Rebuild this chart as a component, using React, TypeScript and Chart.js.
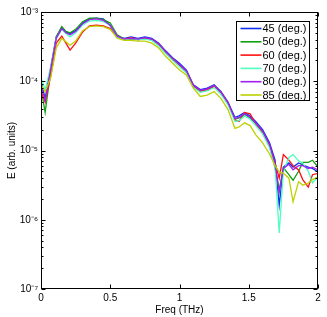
import React, { useEffect, useRef } from "react";
import { Chart, registerables } from "chart.js";

Chart.register(...registerables);

// Frequency grid (THz)
const freq = [
  0, 0.03, 0.07, 0.11, 0.15, 0.18, 0.21, 0.25, 0.3, 0.35, 0.4, 0.45, 0.5, 0.55, 0.6, 0.65,
  0.7, 0.75, 0.8, 0.85, 0.9, 0.95, 1.0, 1.05, 1.1, 1.15, 1.2, 1.25, 1.3, 1.35, 1.4, 1.43,
  1.47, 1.51, 1.55, 1.6, 1.65, 1.69, 1.72, 1.75, 1.79, 1.82, 1.86, 1.89, 1.93, 1.96, 2.0,
];

const e45 = [
  1.00e-4, 5.62e-5, 1.59e-4, 4.37e-4, 6.03e-4, 5.13e-4, 4.9e-4, 5.37e-4, 6.92e-4, 7.94e-4, 8.13e-4, 7.94e-4, 6.31e-4, 4.47e-4, 4.17e-4, 4.37e-4,
  4.17e-4, 4.37e-4, 4.17e-4, 3.55e-4, 2.75e-4, 2.19e-4, 1.82e-4, 1.45e-4, 8.91e-5, 7.59e-5, 7.94e-5, 8.91e-5, 7.08e-5, 5.01e-5, 3.02e-5, 3.16e-5,
  3.55e-5, 3.16e-5, 2.63e-5, 2.0e-5, 1.29e-5, 7.24e-6, 1.62e-6, 5.75e-6, 6.61e-6, 5.75e-6, 6.61e-6, 6.17e-6, 5.75e-6, 5.5e-6, 4.9e-6,
];
const e50 = [
  7.94e-5, 3.55e-5, 1.41e-4, 4.37e-4, 6.17e-4, 5.25e-4, 5.01e-4, 5.62e-4, 7.24e-4, 8.13e-4, 8.13e-4, 7.76e-4, 6.92e-4, 4.68e-4, 4.07e-4, 4.07e-4,
  4.07e-4, 4.17e-4, 3.98e-4, 3.39e-4, 2.63e-4, 2.09e-4, 1.7e-4, 1.38e-4, 8.51e-5, 7.24e-5, 7.59e-5, 8.71e-5, 6.76e-5, 4.79e-5, 2.82e-5, 2.95e-5,
  3.31e-5, 2.95e-5, 2.45e-5, 1.86e-5, 1.17e-5, 5.62e-6, 2.69e-6, 5.62e-6, 4.47e-6, 3.72e-6, 5.01e-6, 6.76e-6, 6.76e-6, 7.24e-6, 5.75e-6,
];
const e60 = [
  7.08e-5, 5.01e-5, 1.2e-4, 3.55e-4, 4.47e-4, 3.55e-4, 2.82e-4, 3.55e-4, 5.13e-4, 6.31e-4, 6.46e-4, 6.31e-4, 5.75e-4, 4.37e-4, 4.07e-4, 4.27e-4,
  3.98e-4, 4.17e-4, 3.98e-4, 3.39e-4, 2.63e-4, 2.04e-4, 1.7e-4, 1.38e-4, 8.51e-5, 7.24e-5, 7.59e-5, 8.32e-5, 6.92e-5, 4.9e-5, 2.75e-5, 2.63e-5,
  3.55e-5, 3.39e-5, 2.45e-5, 1.82e-5, 1.17e-5, 6.61e-6, 3.98e-6, 8.71e-6, 7.24e-6, 6.03e-6, 5.25e-6, 3.8e-6, 2.95e-6, 4.47e-6, 4.68e-6,
];
const e70 = [
  1.12e-4, 7.59e-5, 1.59e-4, 4.17e-4, 5.62e-4, 4.9e-4, 4.37e-4, 5.01e-4, 6.46e-4, 7.41e-4, 7.59e-4, 7.24e-4, 6.46e-4, 4.37e-4, 3.98e-4, 4.17e-4,
  3.98e-4, 4.07e-4, 3.89e-4, 3.24e-4, 2.51e-4, 2.0e-4, 1.62e-4, 1.32e-4, 8.13e-5, 6.92e-5, 7.24e-5, 8.13e-5, 6.46e-5, 4.57e-5, 2.63e-5, 2.69e-5,
  3.16e-5, 2.82e-5, 2.29e-5, 1.74e-5, 1.1e-5, 5.75e-6, 6.46e-7, 5.01e-6, 7.94e-6, 8.71e-6, 7.08e-6, 6.61e-6, 5.01e-6, 3.39e-6, 4.17e-6,
];
const e80 = [
  8.91e-5, 5.25e-5, 1.48e-4, 4.17e-4, 5.75e-4, 5.01e-4, 4.68e-4, 5.25e-4, 6.76e-4, 7.76e-4, 7.94e-4, 7.59e-4, 6.46e-4, 4.47e-4, 4.07e-4, 4.17e-4,
  4.07e-4, 4.27e-4, 4.07e-4, 3.47e-4, 2.69e-4, 2.14e-4, 1.74e-4, 1.41e-4, 8.71e-5, 7.41e-5, 7.76e-5, 8.71e-5, 6.92e-5, 4.9e-5, 2.88e-5, 3.02e-5,
  3.39e-5, 3.02e-5, 2.51e-5, 1.91e-5, 1.23e-5, 6.46e-6, 2.51e-6, 5.5e-6, 6.31e-6, 5.25e-6, 6.03e-6, 6.03e-6, 5.5e-6, 5.75e-6, 5.25e-6,
];
const e85 = [
  8.91e-5, 7.08e-5, 1.12e-4, 3.02e-4, 4.17e-4, 3.72e-4, 3.31e-4, 3.8e-4, 5.37e-4, 6.17e-4, 6.31e-4, 6.17e-4, 5.62e-4, 4.17e-4, 3.89e-4, 3.89e-4,
  3.8e-4, 3.8e-4, 3.55e-4, 3.02e-4, 2.29e-4, 1.82e-4, 1.45e-4, 1.23e-4, 7.94e-5, 6.03e-5, 6.31e-5, 7.08e-5, 5.62e-5, 3.89e-5, 2.09e-5, 2.19e-5,
  2.51e-5, 2.29e-5, 1.7e-5, 1.29e-5, 8.91e-6, 6.03e-6, 4.9e-6, 4.68e-6, 3.98e-6, 1.82e-6, 3.55e-6, 3.16e-6, 3.39e-6, 3.8e-6, 4.17e-6,
];

const seriesLabels = ["45 (deg.)", "50 (deg.)", "60 (deg.)", "70 (deg.)", "80 (deg.)", "85 (deg.)"];
const seriesColors = ["#1030f0", "#10a010", "#ff1010", "#50ffc0", "#a020f0", "#bfd000"];
const seriesValues = [e45, e50, e60, e70, e80, e85];

const xTicks = [0, 0.5, 1, 1.5, 2];
const xTickLabels = ["0", "0.5", "1", "1.5", "2"];
const yTicks = [1e-7, 1e-6, 1e-5, 1e-4, 1e-3];
const yTickLabels = ["10\u207B\u2077", "10\u207B\u2076", "10\u207B\u2075", "10\u207B\u2074", "10\u207B\u00B3"];

const FONT = "'Liberation Sans', Arial, Helvetica, sans-serif";

const framePlugin = {
  id: "matlabFrame",
  afterDatasetsDraw(chart: any) {
    const { ctx, chartArea: a, scales } = chart;
    const xs = scales.x;
    const ys = scales.y;
    const L = Math.round(a.left) + 0.5;
    const R = Math.round(a.right) - 0.5;
    const T = Math.round(a.top) + 0.5;
    const B = Math.round(a.bottom) - 0.5;
    ctx.save();
    ctx.strokeStyle = "#000";
    ctx.lineWidth = 1;
    ctx.strokeRect(L, T, R - L, B - T);
    ctx.beginPath();
    for (const v of xTicks) {
      const px = Math.round(xs.getPixelForValue(v)) + 0.5;
      ctx.moveTo(px, B);
      ctx.lineTo(px, B - 4);
      ctx.moveTo(px, T);
      ctx.lineTo(px, T + 4);
    }
    for (const v of yTicks) {
      const py = Math.round(ys.getPixelForValue(v)) + 0.5;
      ctx.moveTo(L, py);
      ctx.lineTo(L + 4, py);
      ctx.moveTo(R, py);
      ctx.lineTo(R - 4, py);
    }
    for (let d = 0; d < yTicks.length - 1; d++) {
      for (let k = 2; k <= 9; k++) {
        const py = Math.round(ys.getPixelForValue(yTicks[d] * k)) + 0.5;
        ctx.moveTo(L, py);
        ctx.lineTo(L + 2, py);
        ctx.moveTo(R, py);
        ctx.lineTo(R - 2, py);
      }
    }
    ctx.stroke();

    // legend box
    const bx = Math.round(a.right) - 81.5;
    const by = Math.round(a.top) + 9.5;
    const bw = 73;
    const bh = 79;
    ctx.fillStyle = "#fff";
    ctx.fillRect(bx, by, bw, bh);
    ctx.strokeStyle = "#000";
    ctx.strokeRect(bx, by, bw, bh);
    ctx.font = `11px ${FONT}`;
    ctx.textBaseline = "middle";
    ctx.textAlign = "left";
    chart.data.datasets.forEach((ds: any, i: number) => {
      const y = by + 7 + i * 13.3;
      ctx.strokeStyle = ds.borderColor;
      ctx.lineWidth = 1.6;
      ctx.beginPath();
      ctx.moveTo(bx + 4, y);
      ctx.lineTo(bx + 25, y);
      ctx.stroke();
      ctx.fillStyle = "#000";
      ctx.fillText(ds.label, bx + 26, y + 0.5);
    });
    ctx.restore();
  },
};

export default function App() {
  const ref = useRef<HTMLCanvasElement | null>(null);

  useEffect(() => {
    if (!ref.current) return;
    const datasets = seriesValues.map((vals, i) => ({
      label: seriesLabels[i],
      data: freq.map((f, j) => ({ x: f, y: vals[j] })),
      borderColor: seriesColors[i],
      backgroundColor: seriesColors[i],
      borderWidth: 1.3,
      pointRadius: 0,
      fill: false,
      tension: 0,
      order: seriesValues.length - i,
    }));
    const chart = new Chart(ref.current, {
      type: "line",
      data: { datasets },
      options: {
        responsive: false,
        animation: false,
        devicePixelRatio: 1,
        layout: { padding: { top: 12, right: 9, left: 0, bottom: 0 } },
        plugins: { legend: { display: false }, tooltip: { enabled: false } },
        scales: {
          x: {
            type: "linear",
            min: 0,
            max: 2,
            afterBuildTicks: (s: any) => {
              s.ticks = xTicks.map((v) => ({ value: v }));
            },
            afterFit: (s: any) => {
              s.height = 28;
            },
            ticks: {
              autoSkip: false,
              maxRotation: 0,
              padding: 3,
              color: "#000",
              font: { family: FONT, size: 10 },
              callback: (v: any) => xTickLabels[xTicks.indexOf(Number(v))] ?? "",
            },
            grid: { display: false, drawTicks: false },
            border: { display: false },
            title: {
              display: true,
              text: "Freq (THz)",
              color: "#000",
              font: { family: FONT, size: 10 },
              padding: { top: 0, bottom: 1 },
            },
          },
          y: {
            type: "logarithmic",
            min: 1e-7,
            max: 1e-3,
            afterBuildTicks: (s: any) => {
              s.ticks = yTicks.map((v) => ({ value: v }));
            },
            afterFit: (s: any) => {
              s.width = 41;
            },
            ticks: {
              autoSkip: false,
              padding: 3,
              color: "#000",
              font: { family: FONT, size: 10 },
              callback: (v: any) => {
                const idx = yTicks.findIndex((t) => Math.abs(t - Number(v)) / t < 1e-6);
                return idx >= 0 ? yTickLabels[idx] : "";
              },
            },
            grid: { display: false, drawTicks: false },
            border: { display: false },
            title: {
              display: true,
              text: "E (arb. units)",
              color: "#000",
              font: { family: FONT, size: 10 },
              padding: { top: 6, bottom: 0 },
            },
          },
        },
      },
      plugins: [framePlugin],
    } as any);
    return () => chart.destroy();
  }, []);

  return (
    <div style={{ position: "fixed", left: 0, top: 0, width: 327, height: 317, background: "#fff" }}>
      <canvas ref={ref} width={327} height={317} style={{ display: "block", width: 327, height: 317 }} />
    </div>
  );
}
